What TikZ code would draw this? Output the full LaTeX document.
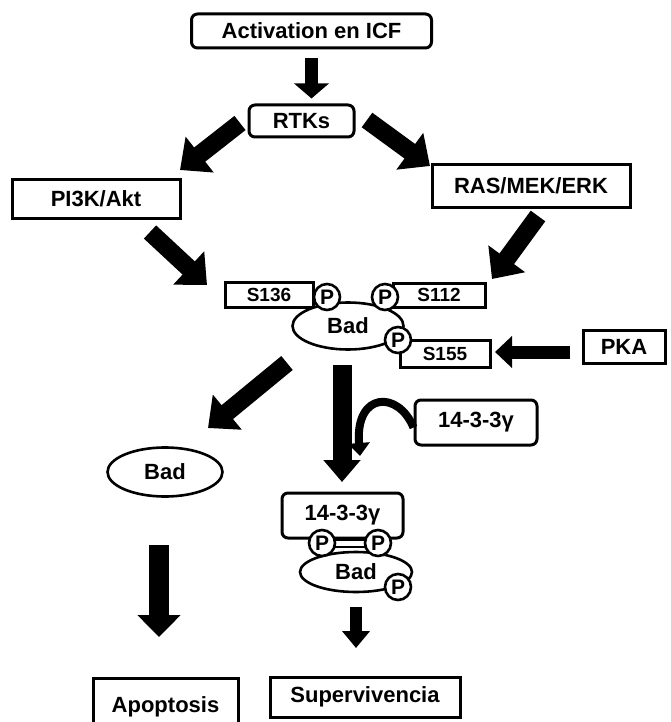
\documentclass[tikz,border=0pt]{standalone}
\usepackage{fontspec}
\setmainfont{Liberation Sans}
\usetikzlibrary{arrows.meta,shapes.geometric}

\tikzset{
  box/.style={draw,line width=3pt,fill=white,inner sep=0pt,font=\fontsize{22}{24}\selectfont\bfseries},
  rbox/.style={box,rounded corners=6pt},
  site/.style={box,font=\fontsize{19}{21}\selectfont\bfseries},
  prot/.style={draw,ellipse,line width=2.6pt,fill=white,inner sep=0pt,font=\fontsize{22}{24}\selectfont\bfseries},
  phos/.style={draw,circle,line width=2.6pt,fill=white,inner sep=0pt,minimum size=26pt,font=\fontsize{21}{23}\selectfont\bfseries},
  fat/.style n args={3}{line width=#1,-{Triangle[width=#2,length=#3]}}
}

\begin{document}
\begin{tikzpicture}[x=1pt,y=-1pt]
\useasboundingbox (0,0) rectangle (670,722);

% top of the cascade
\node[rbox,minimum width=240pt,minimum height=34pt] (act) at (311.5,31) {Activation en ICF};
\node[rbox,minimum width=105pt,minimum height=32pt] (rtk) at (301.5,121) {RTKs};
\node[box,minimum width=168pt,minimum height=38pt] (pik) at (96,199) {PI3K/Akt};
\node[box,minimum width=198pt,minimum height=42pt] (ras) at (531,186) {RAS/MEK/ERK};

\coordinate (a1) at (240,123);
\coordinate (a2) at (180,170);
\coordinate (b1) at (367,120);
\coordinate (b2) at (430,166);
\coordinate (c1) at (150,232);
\coordinate (c2) at (207,285);
\coordinate (d1) at (538,216);
\coordinate (d2) at (492,279);

\draw[fat={13pt}{34pt}{15pt},shorten <=9pt,shorten >=5pt] (act.south) -- (act.south |- rtk.north);
\draw[fat={18pt}{44pt}{25pt}] (a1) -- (a2);
\draw[fat={18pt}{44pt}{25pt}] (b1) -- (b2);
\draw[fat={18pt}{44pt}{25pt}] (c1) -- (c2);
\draw[fat={18pt}{44pt}{25pt}] (d1) -- (d2);

% Bad with its sites
\node[site,minimum width=88pt,minimum height=25pt] (s136) at (269,294.5) {S136};
\node[site,minimum width=92pt,minimum height=24pt] (s112) at (439,295) {S112};
\node[site,minimum width=90pt,minimum height=27pt] (s155) at (445,353.5) {S155};
\node[prot,minimum width=111pt,minimum height=47pt] (bad) at (348,326) {Bad};
\node[phos] (p1) at (327,297) {P};
\node[phos] (p2) at (385,297) {P};
\node[phos] (p3) at (398,340) {P};

\node[box,minimum width=82pt,minimum height=33pt] (pka) at (624,346.5) {PKA};
\coordinate (k1) at (570,352);
\coordinate (k2) at (495,352);
\draw[fat={13pt}{31pt}{17pt}] (k1) -- (k2);

% branches
\node[prot,minimum width=115pt,minimum height=49pt] (badf) at (165,472) {Bad};
\node[rbox,minimum width=122pt,minimum height=45pt] (adap) at (476,422.5) {14-3-3γ};

\coordinate (e1) at (287,363);
\coordinate (e2) at (208,428);
\coordinate (f1) at (342,365);
\coordinate (f2) at (342,482);
\draw[fat={18pt}{44pt}{25pt}] (e1) -- (e2);
\draw[fat={19pt}{36pt}{22pt}] (f1) -- (f2);
\draw[line width=8pt,-{Triangle[width=21pt,length=13pt]}] ([yshift=-5pt]adap.west) .. controls (398,390) and (355,392) .. (360,456);

% complex
\node[rbox,minimum width=121pt,minimum height=45pt] (cplx) at (342.5,515.5) {14-3-3γ};
\node[prot,minimum width=112pt,minimum height=40pt] (cbad) at (356,572) {Bad};
\draw[double,double distance=5pt,line width=2.5pt] (322,543) -- (378,543);
\node[phos] (cp1) at (322,543) {P};
\node[phos] (cp2) at (378,543) {P};
\node[phos] (cp3) at (398,587) {P};

% outcomes
\coordinate (g1) at (159,545);
\coordinate (g2) at (159,637);
\coordinate (h1) at (356,607);
\coordinate (h2) at (356,648);
\draw[fat={20pt}{42pt}{22pt}] (g1) -- (g2);
\draw[fat={12pt}{27pt}{17pt}] (h1) -- (h2);

\node[box,minimum width=145pt,minimum height=54pt,text depth=0pt] (apo) at (165.5,705) {Apoptosis};
\node[box,minimum width=190pt,minimum height=40pt] (sup) at (365,697) {Supervivencia};
\end{tikzpicture}
\end{document}
